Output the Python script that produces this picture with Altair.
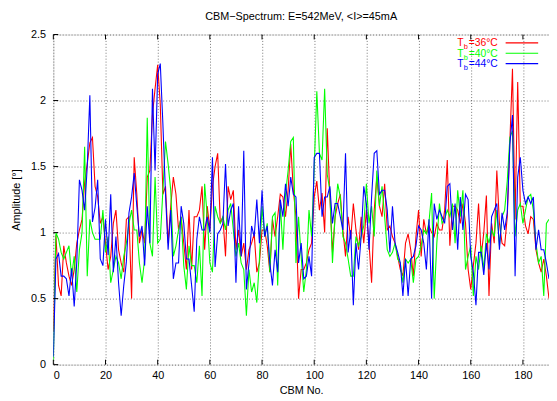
import altair as alt
import pandas as pd

# ---------------- data ----------------
cbm = list(range(0, 191))

amp_36 = [0.25, 0.98, 0.6, 0.52, 0.9, 0.77, 0.67, 0.6, 0.72, 0.92,
          1.02, 1.1, 1.38, 1.52, 1.68, 1.72, 1.35, 1.27, 1.07, 1.12,
          0.92, 0.72, 0.82, 1.07, 1.17, 0.87, 0.77, 0.7, 1.1, 1.12,
          0.5, 1.57, 1.29, 0.92, 1.02, 0.92, 1.42, 1.47, 1.89, 2.09,
          2.27, 1.97, 1.29, 1.35, 0.92, 1.2, 1.42, 1.29, 1.02, 1.12,
          0.92, 0.72, 1.17, 0.72, 1.12, 1.12, 1.17, 1.35, 0.87, 1.2,
          1.02, 1.35, 1.5, 1.6, 1.07, 1.12, 0.82, 1.35, 1.25, 1.32,
          0.87, 1.02, 0.82, 0.92, 0.72, 0.87, 0.92, 0.99, 0.7, 0.77,
          1.02, 1.02, 0.9, 0.7, 1.1, 0.97, 1.12, 1.29, 1.27, 1.12,
          1.32, 1.67, 1.32, 1.12, 0.5, 0.72, 0.72, 0.77, 0.87, 0.92,
          1.27, 1.39, 1.17, 1.3, 1.0, 1.79, 1.27, 0.85, 1.12, 1.22,
          1.29, 1.02, 0.82, 1.12, 0.95, 1.22, 1.02, 0.87, 1.12, 0.92,
          1.17, 0.92, 0.62, 1.17, 1.42, 1.2, 1.12, 1.37, 1.02, 1.05,
          0.97, 0.92, 0.82, 0.72, 0.67, 0.92, 0.99, 0.87, 0.67, 0.97,
          1.17, 0.82, 1.1, 0.99, 1.05, 1.0, 0.97, 1.07, 1.02, 1.02,
          1.17, 1.55, 0.9, 1.2, 1.2, 1.17, 1.07, 1.22, 1.07, 0.72,
          0.57, 0.75, 0.92, 1.22, 0.82, 1.0, 1.28, 0.52, 1.07, 0.92,
          1.47, 1.07, 0.92, 0.9, 1.12, 1.69, 2.24, 1.1, 2.14, 1.2,
          1.2, 1.05, 0.99, 1.12, 1.1, 0.87, 0.77, 0.7, 0.8, 0.67,
          0.5]

amp_40 = [0.03, 1.0, 0.95, 0.85, 0.8, 0.85, 0.9, 0.67, 0.82, 0.55,
          0.87, 1.0, 1.65, 0.67, 1.1, 1.0, 0.95, 0.95, 0.95, 1.17,
          0.85, 0.97, 0.62, 0.72, 0.82, 0.77, 0.65, 0.82, 0.92, 1.07,
          1.17, 1.02, 1.02, 0.77, 0.62, 0.8, 1.87, 0.92, 0.82, 1.42,
          0.92, 0.95, 1.32, 1.69, 1.52, 1.32, 0.82, 0.9, 1.02, 1.12,
          0.75, 0.57, 0.9, 0.75, 0.75, 0.62, 0.9, 0.52, 1.37, 1.12,
          0.77, 0.7, 1.2, 1.12, 1.07, 1.12, 1.02, 1.17, 1.22, 1.02,
          0.82, 0.92, 0.77, 0.72, 0.37, 0.72, 0.55, 0.62, 0.47, 0.8,
          1.2, 0.97, 1.07, 0.7, 1.12, 1.15, 0.6, 1.22, 0.87, 1.29,
          1.47, 1.69, 1.72, 0.77, 1.12, 0.82, 0.55, 0.72, 1.17, 0.97,
          1.49, 2.07, 1.6, 1.55, 2.09, 1.44, 1.32, 0.77, 1.12, 1.37,
          1.27, 0.97, 0.92, 0.8, 0.67, 0.67, 0.97, 0.9, 0.97, 1.05,
          1.37, 1.07, 1.2, 0.97, 1.47, 1.2, 1.35, 1.12, 0.87, 0.82,
          0.85, 0.92, 0.8, 0.77, 0.62, 0.8, 0.77, 0.8, 0.62, 0.8,
          0.82, 0.9, 1.02, 0.99, 1.08, 1.3, 0.5, 0.92, 1.22, 1.07,
          1.1, 1.17, 1.12, 1.22, 0.92, 1.32, 1.12, 1.32, 0.72, 0.82,
          0.9, 0.52, 0.82, 0.72, 0.9, 0.72, 0.99, 0.92, 1.02, 0.97,
          1.17, 0.9, 1.12, 1.17, 1.39, 1.72, 1.77, 0.97, 1.17, 1.22,
          1.07, 1.17, 1.27, 1.29, 1.17, 0.92, 0.77, 0.82, 0.52, 1.07,
          1.1]

amp_44 = [0.06, 0.8, 0.84, 0.67, 0.67, 0.65, 0.52, 0.73, 0.44, 0.78,
          1.4, 1.32, 1.17, 1.5, 2.04, 1.08, 1.19, 1.4, 0.8, 0.75,
          1.1, 0.83, 1.29, 0.7, 0.97, 0.62, 0.37, 0.6, 0.78, 1.15,
          1.27, 1.45, 1.2, 0.97, 1.05, 0.75, 1.2, 0.92, 2.09, 1.47,
          2.2, 2.28, 1.82, 1.29, 0.87, 1.17, 0.65, 0.77, 0.77, 1.2,
          1.07, 0.8, 0.8, 0.6, 0.4, 0.95, 1.12, 1.02, 1.02, 1.12,
          1.0, 1.57, 0.74, 0.99, 1.02, 1.07, 1.52, 1.05, 1.17, 1.22,
          0.62, 1.2, 0.82, 1.62, 0.57, 0.77, 1.05, 0.97, 1.25, 0.92,
          1.32, 0.97, 1.05, 0.77, 0.6, 0.87, 0.7, 1.25, 1.12, 1.37,
          1.2, 1.42, 1.29, 1.27, 0.77, 0.92, 0.65, 0.67, 0.82, 0.67,
          1.57, 1.6, 1.6, 1.12, 1.27, 1.27, 1.35, 1.07, 1.22, 1.22,
          1.12, 1.02, 1.6, 0.85, 1.02, 0.45, 0.92, 0.72, 0.97, 1.35,
          1.22, 0.87, 1.27, 1.6, 1.62, 1.29, 1.32, 1.32, 1.17, 0.85,
          1.2, 0.92, 0.85, 0.77, 0.52, 0.8, 0.52, 0.8, 0.82, 0.9,
          1.05, 1.02, 0.92, 0.72, 1.1, 0.5, 1.22, 1.1, 1.17, 1.12,
          1.07, 1.35, 1.37, 1.02, 1.22, 0.87, 1.27, 1.02, 1.29, 1.25,
          0.82, 0.7, 0.45, 0.85, 0.85, 0.68, 0.92, 0.72, 1.12, 1.17,
          1.22, 0.87, 1.15, 1.02, 1.15, 1.67, 1.89, 0.67, 1.42, 1.57,
          1.32, 1.22, 1.27, 1.22, 1.27, 0.87, 1.02, 0.87, 0.87, 0.77,
          0.65]

series_names = ["36", "40", "44"]
series_colors = ["#ff0000", "#00ff00", "#0000ff"]
legend_rest = ["=36\u00b0C", "=40\u00b0C", "=44\u00b0C"]
x_ticks = [0, 20, 40, 60, 80, 100, 120, 140, 160, 180]
y_ticks = [0, 0.5, 1, 1.5, 2, 2.5]

title_text = "CBM\u2212Spectrum: E=542MeV, <I>=45mA"
x_title = "CBM No."
y_title = "Amplitude [\u00b0]"

FONT = "Liberation Sans"
W, H = 503, 335

xscale = alt.Scale(domain=[0, 190], nice=False, zero=False)
yscale = alt.Scale(domain=[0, 2.5], nice=False, zero=False)

x_axis = alt.Axis(values=x_ticks, title=x_title, grid=True, gridDash=[1, 2],
                  gridColor="#000000", gridOpacity=0.55, tickSize=0,
                  domain=False, labelPadding=5, titlePadding=4,
                  labelFontSize=11, titleFontSize=11, labelFont=FONT,
                  titleFont=FONT, titleFontWeight="normal",
                  labelColor="#000000", titleColor="#000000")
y_axis = alt.Axis(values=y_ticks, title=y_title, format="~g", grid=True,
                  gridDash=[1, 2], gridColor="#000000", gridOpacity=0.55,
                  tickSize=0, domain=False, labelPadding=8, titlePadding=9,
                  labelFontSize=11, titleFontSize=11, labelFont=FONT,
                  titleFont=FONT, titleFontWeight="normal",
                  labelColor="#000000", titleColor="#000000")

layers = []
for name, vals, col in zip(series_names, [amp_36, amp_40, amp_44], series_colors):
    df = pd.DataFrame({"cbm": cbm, "amp": vals})
    layers.append(
        alt.Chart(df).mark_line(color=col, strokeWidth=1.1, clip=True).encode(
            x=alt.X("cbm:Q", scale=xscale, axis=x_axis),
            y=alt.Y("amp:Q", scale=yscale, axis=y_axis),
        )
    )

# inward tick marks on the frame
xt = pd.DataFrame({"t": x_ticks})
yt = pd.DataFrame({"t": y_ticks})
tick_bottom = alt.Chart(xt).mark_rule(color="black", strokeWidth=1).encode(
    x=alt.X("t:Q", scale=xscale), y=alt.value(H), y2=alt.value(H - 5))
tick_top = alt.Chart(xt).mark_rule(color="black", strokeWidth=1).encode(
    x=alt.X("t:Q", scale=xscale), y=alt.value(0), y2=alt.value(5))
tick_left = alt.Chart(yt).mark_rule(color="black", strokeWidth=1).encode(
    y=alt.Y("t:Q", scale=yscale), x=alt.value(0), x2=alt.value(5))

# manual legend (top right, inside the plot)
leg_df = pd.DataFrame({"name": series_names, "rest": legend_rest})
legend_layers = []
for i, (name, col) in enumerate(zip(series_names, series_colors)):
    base_y = 12 + i * 10.5
    d = leg_df[leg_df["name"] == name]
    legend_layers.append(alt.Chart(d).mark_text(
        text="T", color=col, font=FONT, fontSize=10.5, align="left",
        baseline="alphabetic").encode(x=alt.value(410), y=alt.value(base_y)))
    legend_layers.append(alt.Chart(d).mark_text(
        text="b", color=col, font=FONT, fontSize=7.5, align="left",
        baseline="alphabetic").encode(x=alt.value(416.5), y=alt.value(base_y + 3)))
    legend_layers.append(alt.Chart(d).mark_text(
        color=col, font=FONT, fontSize=10.5, align="left",
        baseline="alphabetic").encode(text="rest:N", x=alt.value(421.5), y=alt.value(base_y)))
    legend_layers.append(alt.Chart(d).mark_rule(color=col, strokeWidth=1.1).encode(
        x=alt.value(459), x2=alt.value(492), y=alt.value(base_y - 3.5)))

chart = alt.layer(*layers, tick_bottom, tick_top, tick_left, *legend_layers).properties(
    width=W, height=H,
    title=alt.TitleParams(title_text, font=FONT, fontSize=11, fontWeight="normal",
                          color="#000000", anchor="middle", offset=7),
    autosize=alt.AutoSizeParams(type="none"),
    padding={"left": 46, "top": 24, "right": 0, "bottom": 34},
).configure_view(stroke="black", strokeWidth=1).configure(background="white")

chart.save("out.html", embed_options={"renderer": "svg", "actions": False})
